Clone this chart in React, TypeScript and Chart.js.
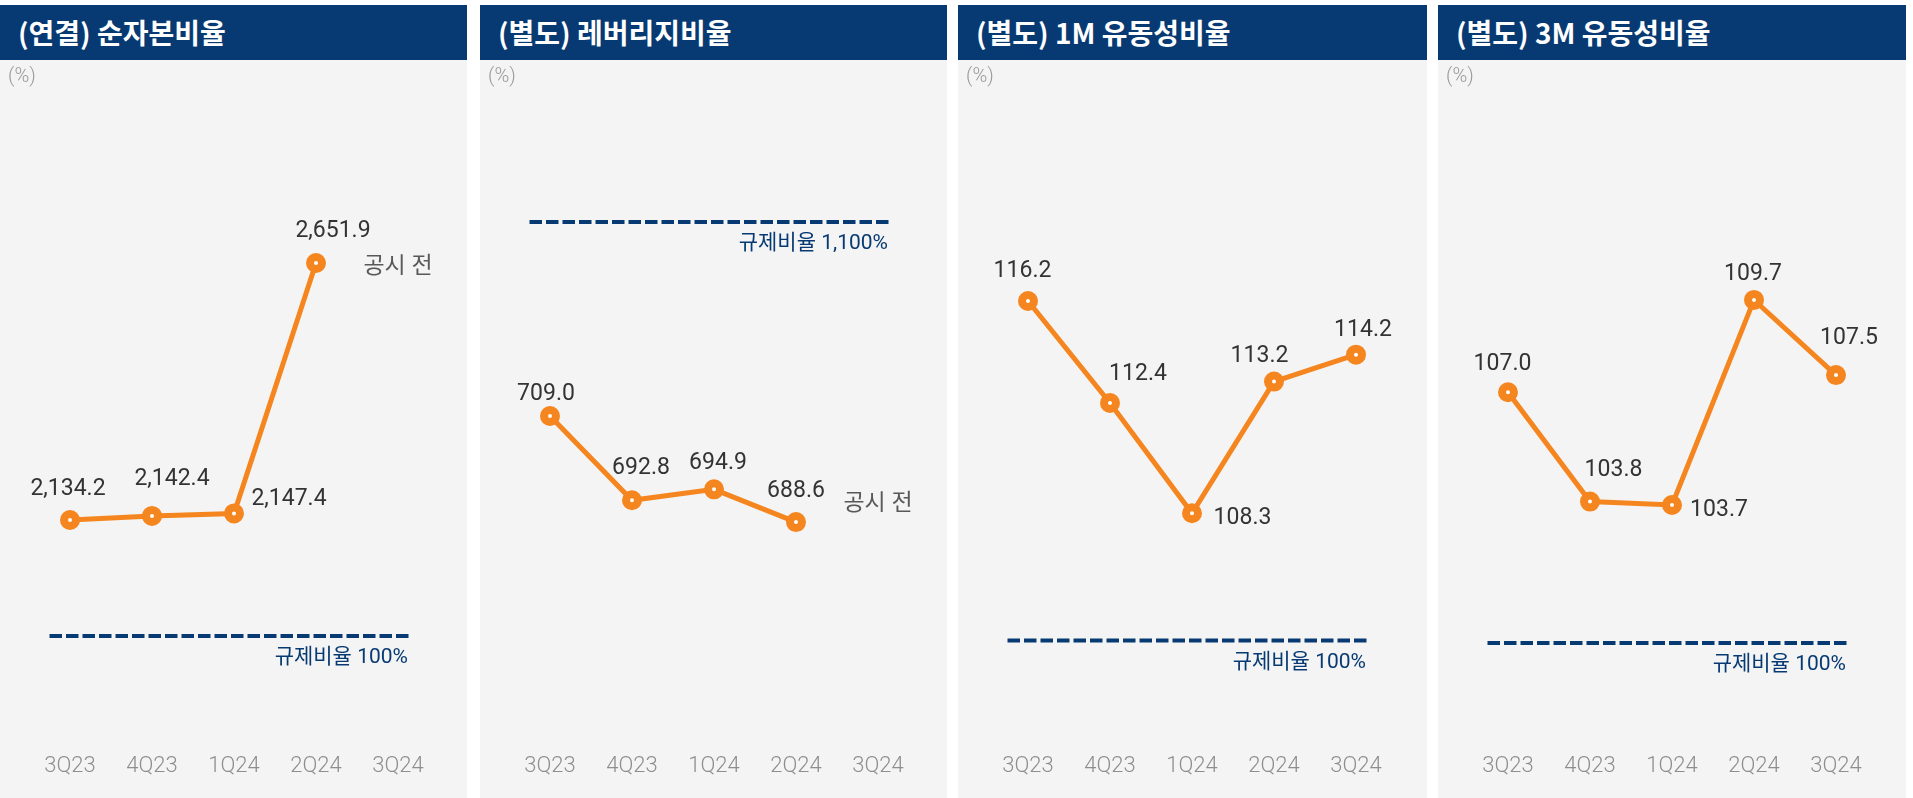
import React, { useEffect, useRef } from 'react';
import { Chart, registerables } from 'chart.js';

Chart.register(...registerables);

// ---------- data ----------
const categories = ['3Q23', '4Q23', '1Q24', '2Q24', '3Q24'];
const netCapitalRatio = [2134.2, 2142.4, 2147.4, 2651.9, null];
const leverageRatio = [709.0, 692.8, 694.9, 688.6, null];
const liquidity1M = [116.2, 112.4, 108.3, 113.2, 114.2];
const liquidity3M = [107.0, 103.8, 103.7, 109.7, 107.5];

const panelTitles = ['(연결) 순자본비율', '(별도) 레버리지비율', '(별도) 1M 유동성비율', '(별도) 3M 유동성비율'];
const regulatoryRatios = [100, 1100, 100, 100];
const regulatoryLabels = ['규제비율 100%', '규제비율 1,100%', '규제비율 100%', '규제비율 100%'];
const pendingNote = '공시 전';
const unitLabel = '(%)';

// ---------- layout / style config ----------
const panelLefts = [0, 480, 958, 1438];
const panelWidths = [467, 467, 469, 468];
const yRanges: [number, number][] = [
  [1679.7, 2980.3],
  [645.6, 769.8],
  [99.65, 123.68],
  [96.66, 115.55],
];
const refAxisMax = [589, 1356, 615, 629];
const labelOffsets: [number, number][][] = [
  [[-2, -33.5], [20, -39.5], [55, -16.5], [17, -34]],
  [[-4, -24.5], [9, -34], [4, -29], [0, -33.5]],
  [[-5.5, -32.5], [28, -31], [50.5, 3], [-14.5, -28], [7, -26.5]],
  [[-5.5, -30], [23.5, -34], [47, 2.5], [-1, -28], [13, -39.5]],
];
const noteOffsets: (number | null)[] = [4, -18, null, null];

const ORANGE = '#F5861F';
const NAVY = '#073A73';
const FONT = "Roboto, 'Noto Sans CJK KR', sans-serif";

const seriesList = [netCapitalRatio, leverageRatio, liquidity1M, liquidity3M];

const fmt = (v: number) =>
  v.toLocaleString('en-US', { minimumFractionDigits: 1, maximumFractionDigits: 1 });

function Panel({ idx }: { idx: number }) {
  const ref = useRef<HTMLCanvasElement | null>(null);
  useEffect(() => {
    const data = seriesList[idx];
    const offsets = labelOffsets[idx];
    const overlay = {
      id: 'overlay',
      afterDatasetsDraw(chart: any) {
        const ctx = chart.ctx;
        const xs = chart.scales.x;
        const yr = chart.scales.yRef;
        const meta = chart.getDatasetMeta(0);
        ctx.save();
        // regulatory reference line
        const ry = yr.getPixelForValue(regulatoryRatios[idx]);
        const x0 = xs.getPixelForValue(-0.25);
        const x1 = xs.getPixelForValue(4.17);
        ctx.strokeStyle = NAVY;
        ctx.lineWidth = 4;
        ctx.setLineDash([12.5, 4]);
        ctx.beginPath();
        ctx.moveTo(x0, ry);
        ctx.lineTo(x1, ry);
        ctx.stroke();
        ctx.setLineDash([]);
        ctx.fillStyle = NAVY;
        ctx.font = `400 21px ${FONT}`;
        ctx.textAlign = 'right';
        ctx.textBaseline = 'middle';
        ctx.fillText(regulatoryLabels[idx], x1 - 4, ry + 22);
        // value labels
        ctx.fillStyle = '#333333';
        ctx.font = `400 23px ${FONT}`;
        ctx.textAlign = 'center';
        ctx.textBaseline = 'alphabetic';
        let lastY = 0;
        data.forEach((v, i) => {
          if (v === null) return;
          const pt = meta.data[i];
          lastY = pt.y;
          const [dx, dy] = offsets[i];
          ctx.fillText(fmt(v as number), pt.x + dx, pt.y + dy + 8.2);
        });
        // pending note
        const nd = noteOffsets[idx];
        if (nd !== null) {
          ctx.fillStyle = '#595959';
          ctx.font = `400 23px ${FONT}`;
          ctx.textBaseline = 'middle';
          ctx.fillText(pendingNote, xs.getPixelForValue(4), lastY + nd);
        }
        ctx.restore();
      },
    };
    const chart = new Chart(ref.current as HTMLCanvasElement, {
      type: 'line',
      data: {
        labels: categories,
        datasets: [
          {
            data: data as any,
            borderColor: ORANGE,
            borderWidth: 5,
            pointRadius: 6,
            pointHoverRadius: 6,
            pointBorderWidth: 8,
            pointHoverBorderWidth: 8,
            pointBackgroundColor: '#ffffff',
            pointBorderColor: ORANGE,
            tension: 0,
            clip: false as any,
            yAxisID: 'y',
          },
        ],
      },
      options: {
        animation: false,
        responsive: false,
        devicePixelRatio: 1,
        events: [],
        layout: { padding: { left: 29, right: panelWidths[idx] - 439, top: 40, bottom: 10 } },
        plugins: { legend: { display: false }, tooltip: { enabled: false } },
        scales: {
          x: {
            type: 'category',
            offset: true,
            grid: { display: false, drawTicks: false },
            border: { display: false },
            ticks: {
              padding: 8,
              color: '#8e8e8e',
              font: { family: FONT, size: 22, weight: 300 as any },
              maxRotation: 0,
              autoSkip: false,
            },
          },
          y: { display: false, min: yRanges[idx][0], max: yRanges[idx][1] },
          yRef: { display: false, min: 0, max: refAxisMax[idx] },
        },
      },
      plugins: [overlay],
    });
    return () => chart.destroy();
  }, [idx]);

  return (
    <div
      style={{
        position: 'absolute',
        left: panelLefts[idx],
        top: 5,
        width: panelWidths[idx],
        height: 793,
        background: '#f4f4f4',
      }}
    >
      <div
        style={{
          height: 55,
          background: NAVY,
          color: '#ffffff',
          fontFamily: "'Noto Sans CJK KR', sans-serif",
          fontWeight: 700,
          fontSize: 28,
          lineHeight: '55px',
          paddingLeft: 18,
          boxSizing: 'border-box',
          whiteSpace: 'nowrap',
        }}
      >
        {panelTitles[idx]}
      </div>
      <canvas ref={ref} width={panelWidths[idx]} height={738} style={{ display: 'block' }} />
      <div
        style={{
          position: 'absolute',
          left: 8,
          top: 58,
          fontFamily: FONT,
          fontWeight: 300,
          fontSize: 20,
          color: '#999999',
          lineHeight: '24px',
        }}
      >
        {unitLabel}
      </div>
    </div>
  );
}

export default function App() {
  return (
    <div style={{ position: 'relative', width: 1913, height: 798, background: '#ffffff', overflow: 'hidden' }}>
      <style>{`body{margin:0;background:#fff;}`}</style>
      {[0, 1, 2, 3].map((i) => (
        <Panel key={i} idx={i} />
      ))}
    </div>
  );
}
